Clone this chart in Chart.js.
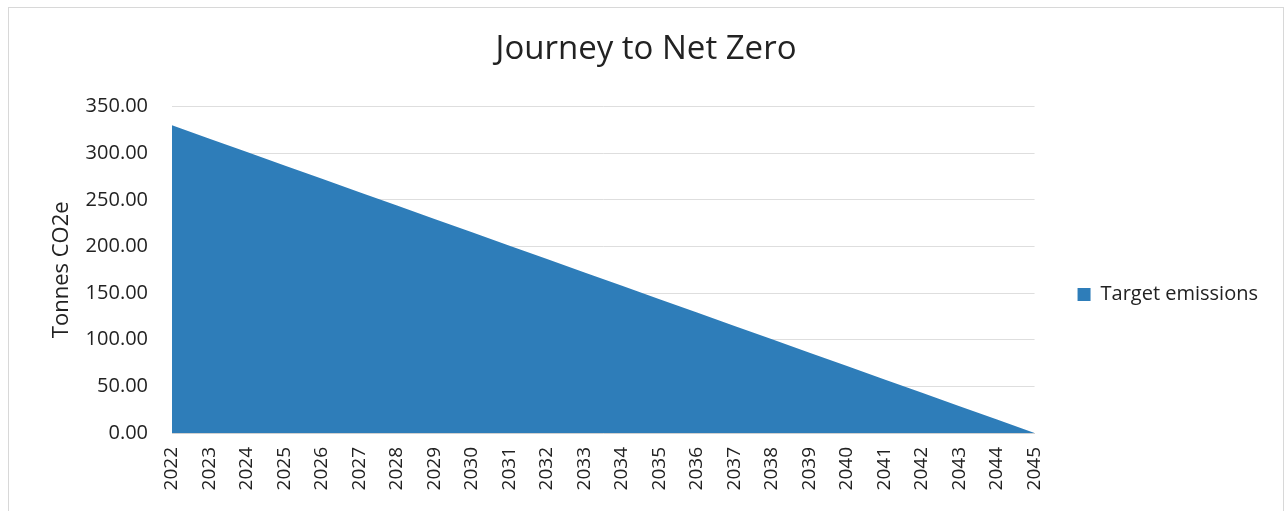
<!DOCTYPE html>
<html>
<head>
<meta charset="utf-8">
<script src="https://cdn.jsdelivr.net/npm/chart.js@4/dist/chart.umd.min.js"></script>
<style>
  html, body { margin: 0; padding: 0; background: #ffffff; }
  #wrap { position: relative; width: 1285px; height: 511px; }
  #frame { position: absolute; left: 8px; top: 7px; width: 1276px; height: 510px; border: 1px solid #d8d8d8; pointer-events: none; box-sizing: border-box; }
</style>
</head>
<body>
<div id="wrap">
  <canvas id="c" width="1285" height="511"></canvas>
  <div id="frame"></div>
</div>
<script>
const years = ['2022','2023','2024','2025','2026','2027','2028','2029','2030','2031','2032','2033',
               '2034','2035','2036','2037','2038','2039','2040','2041','2042','2043','2044','2045'];
const targetEmissions = [330.00, 315.65, 301.30, 286.96, 272.61, 258.26, 243.91, 229.57, 215.22, 200.87,
                         186.52, 172.17, 157.83, 143.48, 129.13, 114.78, 100.43, 86.09, 71.74, 57.39,
                         43.04, 28.70, 14.35, 0.00];
const seriesName = 'Target emissions';
const chartTitle = 'Journey to Net Zero';
const yAxisTitle = 'Tonnes CO2e';

const FONT = "'Open Sans', 'Liberation Sans', sans-serif";
const BLUE = '#2e7db9';

new Chart(document.getElementById('c'), {
  type: 'line',
  data: {
    labels: years,
    datasets: [{
      label: seriesName,
      data: targetEmissions,
      fill: 'origin',
      backgroundColor: BLUE,
      borderColor: BLUE,
      borderWidth: 0,
      pointRadius: 0,
      tension: 0
    }]
  },
  options: {
    responsive: false,
    animation: false,
    layout: { padding: { left: 24, right: 17, top: 0, bottom: 0 } },
    plugins: {
      title: {
        display: true,
        text: chartTitle,
        color: '#222222',
        font: { family: FONT, size: 33, weight: 'normal' },
        padding: { top: 30, bottom: 37 }
      },
      legend: {
        position: 'right',
        align: 'center',
        title: { display: true, text: '', font: { size: 10 }, padding: { top: 0, bottom: 66 } },
        labels: {
          boxWidth: 13,
          boxHeight: 13,
          padding: 43,
          color: '#222222',
          font: { family: FONT, size: 20 }
        }
      },
      tooltip: { enabled: false }
    },
    scales: {
      x: {
        offset: false,
        grid: { display: false, drawTicks: false },
        border: { display: true, color: '#d0d0d0' },
        ticks: {
          minRotation: 90, maxRotation: 90, autoSkip: false,
          padding: 14,
          color: '#222222',
          font: { family: FONT, size: 19 }
        },
        afterFit: (s) => { s.height = 78; }
      },
      y: {
        min: 0, max: 350,
        grid: { color: '#dedede', lineWidth: 1, drawTicks: false },
        border: { display: false },
        ticks: {
          stepSize: 50,
          padding: 24,
          color: '#222222',
          font: { family: FONT, size: 20 },
          callback: (v) => Number(v).toFixed(2)
        },
        title: {
          display: true,
          text: yAxisTitle,
          color: '#222222',
          font: { family: FONT, size: 22 },
          padding: { top: 25, bottom: 0 }
        },
        afterFit: (s) => { s.width = 148; }
      }
    }
  }
});
</script>
</body>
</html>
